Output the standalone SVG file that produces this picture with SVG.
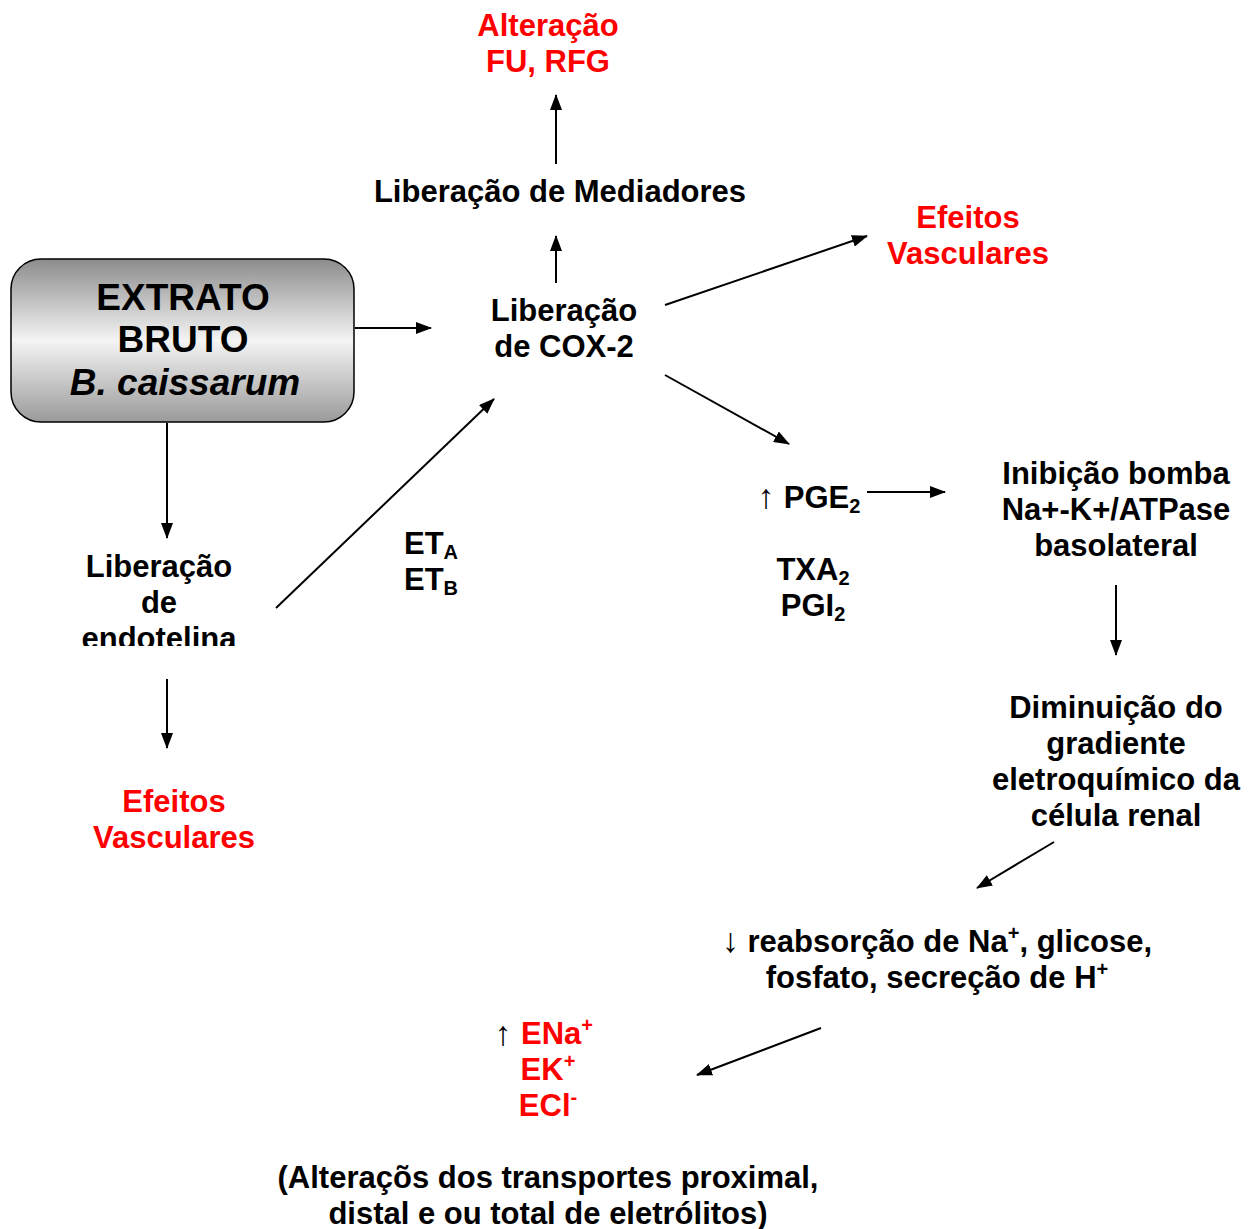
<svg xmlns="http://www.w3.org/2000/svg" width="1253" height="1229" viewBox="0 0 1253 1229">
<defs>
<style>
text{font-family:"Liberation Sans",Arial,sans-serif;font-weight:bold;font-size:31px;text-anchor:middle;fill:#000}
.r{fill:#ff0000}
.big{font-size:37px}
.sub{font-size:20px}
.arr{font-size:34px;font-weight:normal}
.c line{stroke:#000;stroke-width:2;marker-end:url(#ah)}
</style>
<linearGradient id="g" x1="0" y1="0" x2="0" y2="1">
<stop offset="0" stop-color="#8c8c8c"/>
<stop offset="0.5" stop-color="#f4f4f4"/>
<stop offset="1" stop-color="#9a9a9a"/>
</linearGradient>
<marker id="ah" markerWidth="16" markerHeight="12" refX="15" refY="6" orient="auto" markerUnits="userSpaceOnUse">
<path d="M0,0 L16,6 L0,12 Z" fill="#000"/>
</marker>
<clipPath id="clipE"><rect x="0" y="540" width="400" height="106"/></clipPath>
</defs>
<g class="c" id="connectors">
<line x1="556" y1="164" x2="556" y2="95"/>
<line x1="556" y1="283" x2="556" y2="236"/>
<line x1="355" y1="328" x2="431" y2="328"/>
<line x1="665" y1="305" x2="867" y2="236"/>
<line x1="665" y1="375" x2="789" y2="444"/>
<line x1="167" y1="423" x2="167" y2="538"/>
<line x1="276" y1="608" x2="494" y2="399"/>
<line x1="167" y1="679" x2="167" y2="748"/>
<line x1="867" y1="492" x2="945" y2="492"/>
<line x1="1116" y1="585" x2="1116" y2="655"/>
<line x1="1054" y1="842" x2="977" y2="888"/>
<line x1="821" y1="1028" x2="697" y2="1075"/>
</g>
<g id="extrato">
<rect x="11" y="259" width="343" height="163" rx="30" ry="30" fill="url(#g)" stroke="#000" stroke-width="1.5"/>
<text class="big" x="183" y="310">EXTRATO</text>
<text class="big" x="183" y="352">BRUTO</text>
<text class="big" x="185" y="395" font-style="italic">B. caissarum</text>
</g>
<g id="alteracao">
<text class="r" x="548" y="36">Alteração</text>
<text class="r" x="548" y="72">FU, RFG</text>
</g>
<g id="mediadores"><text x="560" y="202">Liberação de Mediadores</text></g>
<g id="efeitos1">
<text class="r" x="968" y="228">Efeitos</text>
<text class="r" x="968" y="264">Vasculares</text>
</g>
<g id="cox2">
<text x="564" y="321">Liberação</text>
<text x="564" y="357">de COX-2</text>
</g>
<g id="endotelina" clip-path="url(#clipE)">
<text x="159" y="577">Liberação</text>
<text x="159" y="613">de</text>
<text x="159" y="649">endotelina</text>
</g>
<g id="et">
<text x="431" y="554">ET<tspan class="sub" dy="5">A</tspan></text>
<text x="431" y="590">ET<tspan class="sub" dy="5">B</tspan></text>
</g>
<g id="efeitos2">
<text class="r" x="174" y="812">Efeitos</text>
<text class="r" x="174" y="848">Vasculares</text>
</g>
<g id="pge2">
<text class="arr" x="766" y="508">↑</text>
<text x="822" y="508">PGE<tspan class="sub" dy="5">2</tspan></text>
</g>
<g id="txa2">
<text x="813" y="580">TXA<tspan class="sub" dy="5">2</tspan></text>
<text x="813" y="616">PGI<tspan class="sub" dy="5">2</tspan></text>
</g>
<g id="inibicao">
<text x="1116" y="484">Inibição bomba</text>
<text x="1116" y="520">Na+-K+/ATPase</text>
<text x="1116" y="556">basolateral</text>
</g>
<g id="diminuicao">
<text x="1116" y="718">Diminuição do</text>
<text x="1116" y="754">gradiente</text>
<text x="1116" y="790">eletroquímico da</text>
<text x="1116" y="826">célula renal</text>
</g>
<g id="reabsorcao">
<text x="937" y="952"><tspan class="arr">↓</tspan> reabsorção de Na<tspan class="sub" dy="-12">+</tspan><tspan dy="12">, glicose,</tspan></text>
<text x="937" y="988">fosfato, secreção de H<tspan class="sub" dy="-12">+</tspan></text>
</g>
<g id="eletrolitos">
<text class="arr" x="503" y="1045">↑</text>
<text class="r" x="557" y="1044">ENa<tspan class="sub" dy="-12">+</tspan></text>
<text class="r" x="548" y="1080">EK<tspan class="sub" dy="-12">+</tspan></text>
<text class="r" x="548" y="1116">ECl<tspan class="sub" dy="-12">-</tspan></text>
</g>
<g id="nota">
<text x="548" y="1188">(Alteraçõs dos transportes proximal,</text>
<text x="548" y="1224">distal e ou total de eletrólitos)</text>
</g>
</svg>
